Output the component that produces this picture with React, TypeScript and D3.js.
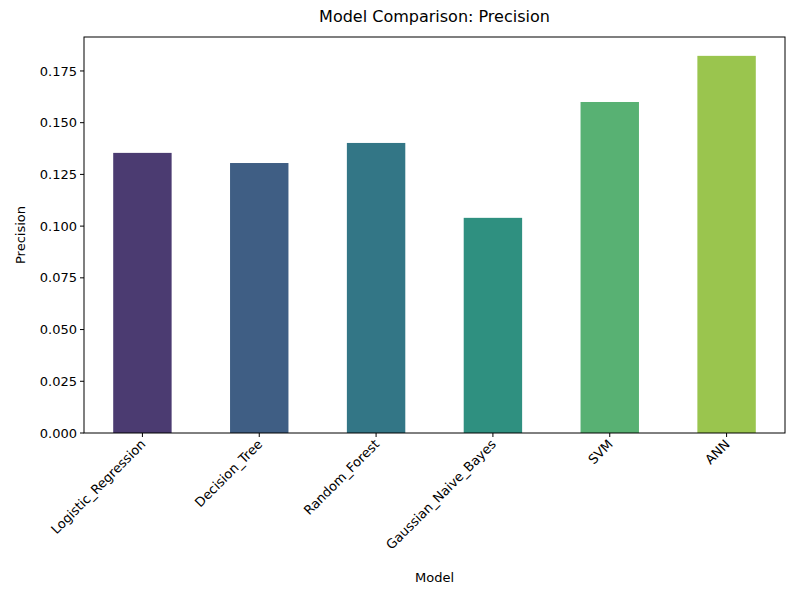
import React from "react";
import * as d3 from "d3";

const models = ["Logistic_Regression", "Decision_Tree", "Random_Forest", "Gaussian_Naive_Bayes", "SVM", "ANN"];
const precision = [0.1354, 0.1305, 0.1402, 0.104, 0.1600, 0.1823];
const colors = ["#4b3b71", "#3f5e84", "#337686", "#2f9080", "#58b173", "#9ac54e"];
const yTicks = [0, 0.025, 0.05, 0.075, 0.1, 0.125, 0.15, 0.175];

const App = () => {
  const left = 84, right = 785, top = 37, bottom = 433;
  const x = d3.scaleBand().domain(models).range([left, right]).paddingInner(0.5).paddingOuter(0.25);
  const y = d3.scaleLinear().domain([0, (d3.max(precision) as number) * 1.05]).range([bottom, top]);
  const font = "DejaVu Sans, sans-serif";
  return (
    <svg width={800} height={600} style={{ position: "absolute", left: 0, top: 0, background: "#fff" }} fontFamily={font}>
      <rect x={0} y={0} width={800} height={600} fill="#fff" />
      {models.map((m, i) => (
        <rect key={m} x={x(m)} y={y(precision[i])} width={x.bandwidth()} height={bottom - y(precision[i])} fill={colors[i]} />
      ))}
      <rect x={left} y={top} width={right - left} height={bottom - top} fill="none" stroke="#000" strokeWidth={1} />
      {yTicks.map(t => (
        <g key={t} transform={`translate(${left},${y(t)})`}>
          <line x2={-4} stroke="#000" />
          <text x={-7} dy="0.35em" textAnchor="end" fontSize={13}>{t.toFixed(3)}</text>
        </g>
      ))}
      {models.map(m => {
        const cx = (x(m) as number) + x.bandwidth() / 2;
        return (
          <g key={m} transform={`translate(${cx},${bottom})`}>
            <line y2={4} stroke="#000" />
            <text transform="translate(4,12) rotate(-45)" textAnchor="end" fontSize={13}>{m}</text>
          </g>
        );
      })}
      <text x={(left + right) / 2} y={22} textAnchor="middle" fontSize={16}>Model Comparison: Precision</text>
      <text x={(left + right) / 2} y={582} textAnchor="middle" fontSize={13}>Model</text>
      <text transform={`translate(25,${(top + bottom) / 2}) rotate(-90)`} textAnchor="middle" fontSize={13}>Precision</text>
    </svg>
  );
};

export default App;
